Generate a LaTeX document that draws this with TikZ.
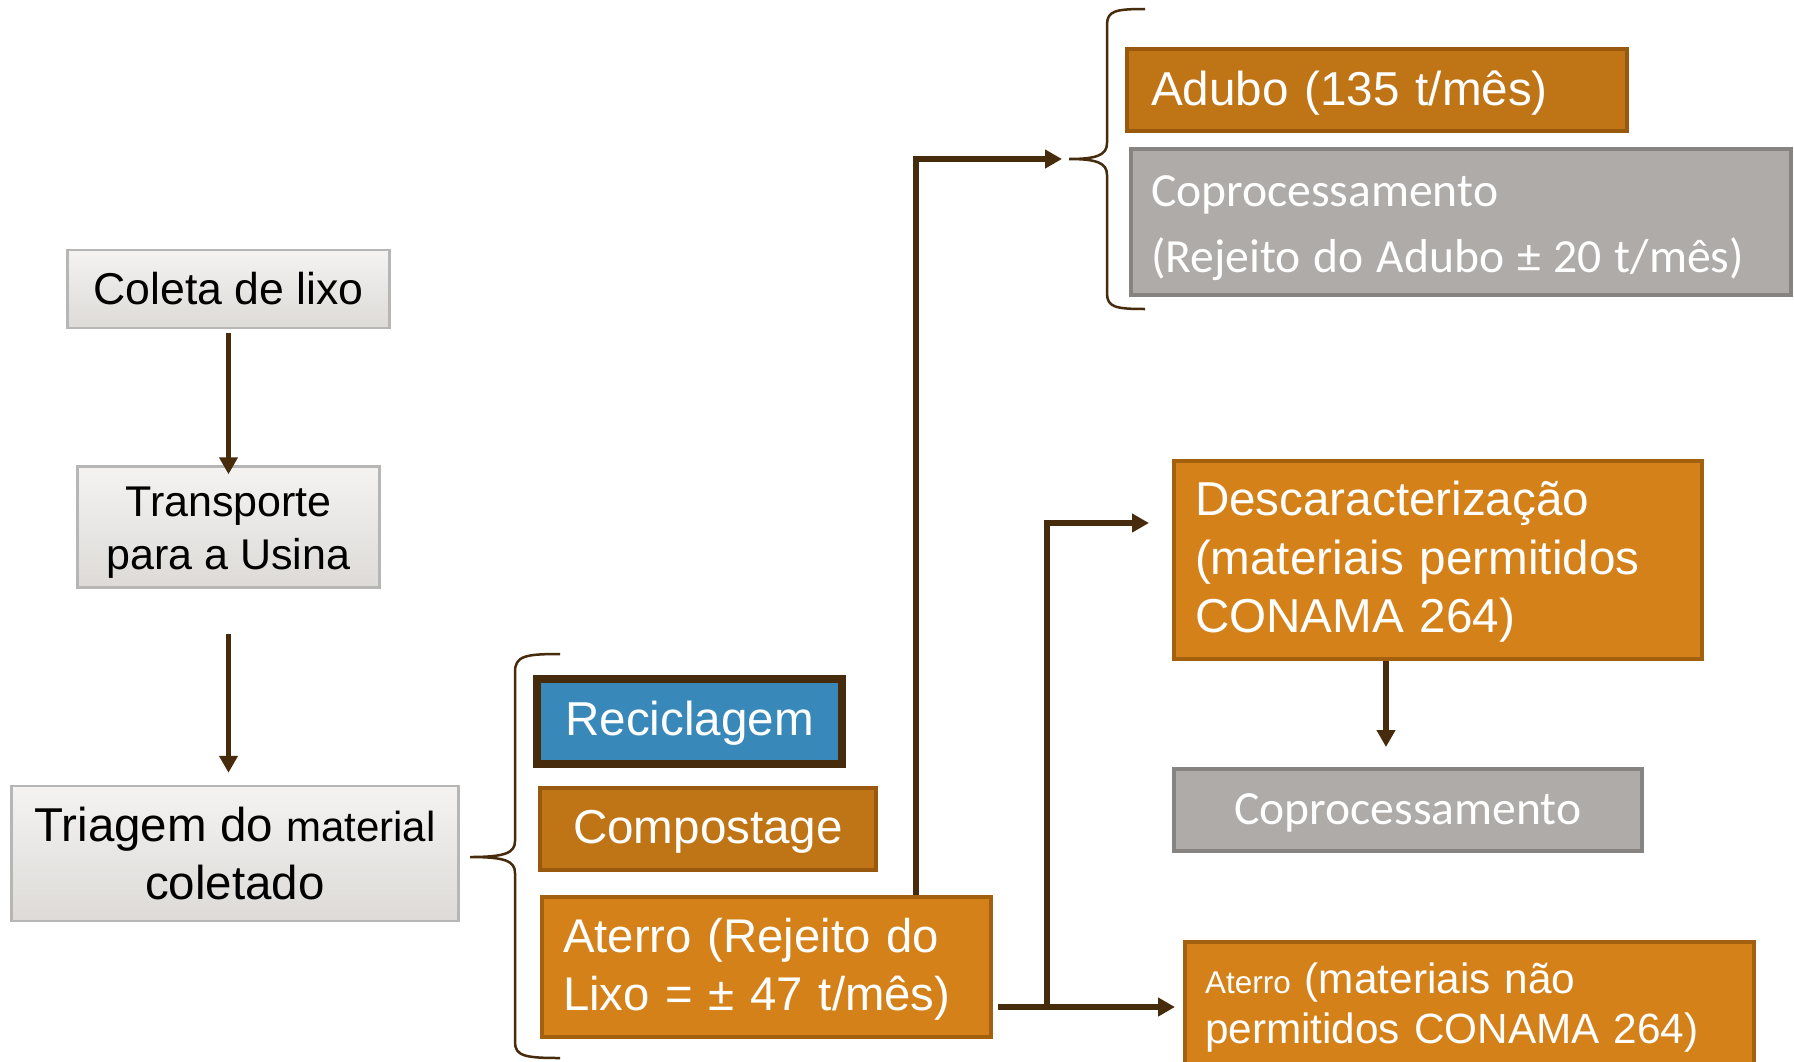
\documentclass[tikz,border=0pt]{standalone}
\usepackage{fontspec}
\setmainfont{Liberation Sans}
\newfontfamily\calibfont{Carlito}
\usetikzlibrary{arrows.meta,calc}

\definecolor{lineBrown}{RGB}{70,43,12}
\definecolor{reciBlue}{RGB}{56,136,185}
\definecolor{compFill}{RGB}{191,116,22}
\definecolor{compEdge}{RGB}{152,89,15}
\definecolor{aterFill}{RGB}{212,129,26}
\definecolor{aterEdge}{RGB}{163,97,16}
\definecolor{grayFill}{RGB}{175,171,168}
\definecolor{grayEdge}{RGB}{134,131,129}
\definecolor{lightTop}{RGB}{244,243,242}
\definecolor{lightBot}{RGB}{221,218,215}
\definecolor{lightEdge}{RGB}{182,182,182}

\tikzset{
  lightbox/.style={draw=lightEdge, line width=2.5pt, top color=lightTop,
    bottom color=lightBot, inner sep=0pt, align=center, text=black},
  reciclebox/.style={draw=lineBrown, line width=8pt, fill=reciBlue,
    text=white, inner sep=0pt, align=center},
  brownbox/.style={draw=compEdge, fill=compFill, line width=4pt,
    text=white, inner sep=0pt},
  orangebox/.style={draw=aterEdge, fill=aterFill, line width=4pt,
    text=white, inner sep=0pt},
  graybox/.style={draw=grayEdge, fill=grayFill, line width=4pt,
    text=white, inner sep=0pt},
  bigtext/.style={font=\fontsize{47.6}{58.5}\selectfont},
  calibtext/.style={font=\calibfont\fontsize{47.6}{66}\selectfont},
  % pushes the text block of a box down by #1/2
  lowered/.style={execute at begin node={\rule{0pt}{\dimexpr\fontcharht\font`\(+#1\relax}}},
  flow/.style={draw=lineBrown, line width=5.5pt,
    -{Triangle[length=17pt,width=18pt]}},
  bracket/.style={draw=lineBrown, line width=2.5pt},
}

\begin{document}
\begin{tikzpicture}[x=1pt, y=-1pt]
  \useasboundingbox (0,0) rectangle (1794,1061);
  \fill[white] (0,0) rectangle (1794,1061);
  \clip (0,0) rectangle (1794,1061);

  % left column
  \node[lightbox, minimum width=322pt, minimum height=78pt,
        font=\fontsize{44.6}{50}\selectfont] (coleta) at (228.5,289) {Coleta de lixo};
  \node[lightbox, minimum width=302pt, minimum height=121pt,
        font=\fontsize{43}{53}\selectfont] (transp) at (228.5,527)
        {\rule{0pt}{40pt}Transporte\\para a Usina};
  \node[lightbox, minimum width=447pt, minimum height=135pt,
        font=\fontsize{47.5}{58}\selectfont] (triagem) at (235,853.5)
        {Triagem do {\fontsize{42}{58}\selectfont material}\\coletado};

  % sorting outputs
  \node[reciclebox, bigtext, minimum width=305pt, minimum height=85pt, lowered=5pt]
        (recic) at (689.5,721.5) {Reciclagem};
  \node[brownbox, bigtext, minimum width=336pt, minimum height=82pt, align=center,
        lowered=7pt]
        (compost) at (708,829) {Compostage};
  \node[orangebox, font=\fontsize{47.3}{58}\selectfont, minimum height=140pt,
        inner xsep=21pt, text width=407pt, align=left, lowered=6pt]
        (aterro) at (766.5,967) {Aterro (Rejeito do\\Lixo = ± 47 t/mês)};

  % compost outputs
  \node[brownbox, bigtext, minimum height=82pt, inner xsep=24pt,
        text width=452pt, align=left, lowered=8pt]
        (adubo) at (1377,90) {Adubo (135 t/mês)};
  \node[graybox, calibtext, minimum height=146pt, inner xsep=20pt,
        text width=620pt, align=left, lowered=8pt]
        (copro1) at (1461,222)
        {Coprocessamento\\\spaceskip=12.9pt (Rejeito do Adubo ± 20 t/mês)};

  % landfill outputs
  \node[orangebox, bigtext, minimum height=198pt, inner xsep=21pt,
        text width=486pt, align=left, lowered=6pt]
        (descar) at (1438,560)
        {Descaracterização\\(materiais permitidos\\CONAMA 264)};
  \node[graybox, calibtext, minimum width=468pt, minimum height=82pt, align=center,
        lowered=2pt]
        (copro2) at (1408,810) {Coprocessamento};
  \node[orangebox, font=\fontsize{42.3}{50}\selectfont, minimum height=124pt,
        inner xsep=20pt, text width=529pt, align=left, lowered=8pt]
        (aterro2) at (1469.5,1004)
        {{\fontsize{31.5}{50}\selectfont Aterro} (materiais não\\permitidos CONAMA 264)};

  % braces
  \coordinate (b1tip) at (470,857);
  \draw[bracket] (560,654) .. controls (525,654) and (515,656) .. (515,672)
    -- (515,841) .. controls (515,853) and (505,857) .. (b1tip)
    .. controls (505,857) and (515,861) .. (515,873)
    -- (515,1042) .. controls (515,1056) and (525,1058) .. (560,1058);

  \coordinate (b2tip) at (1069,159);
  \draw[bracket] (1145,9) .. controls (1115,9) and (1107,11) .. (1107,25)
    -- (1107,143) .. controls (1107,155) and (1097,159) .. (b2tip)
    .. controls (1097,159) and (1107,163) .. (1107,175)
    -- (1107,293) .. controls (1107,307) and (1115,309) .. (1145,309);

  % connectors
  \draw[flow, shorten <=4pt, shorten >=-9pt] (coleta.south) -- (transp.north);
  \draw[flow, shorten <=45pt, shorten >=12pt] (transp.south) -- (transp.south |- triagem.north);

  \draw[flow, shorten >=7pt] ([xshift=-77pt]aterro.north east) |- (b2tip);

  \coordinate (split) at (1047,1007);
  \draw[flow, shorten <=5pt, shorten >=8pt] (split -| aterro.east) -- (split -| aterro2.west);
  \draw[flow, shorten >=23pt] (split) |- ([yshift=37pt]descar.west);

  \draw[flow, shorten >=20pt] ([xshift=-52pt]descar.south) -- ([xshift=-22pt]copro2.north);
\end{tikzpicture}
\end{document}
